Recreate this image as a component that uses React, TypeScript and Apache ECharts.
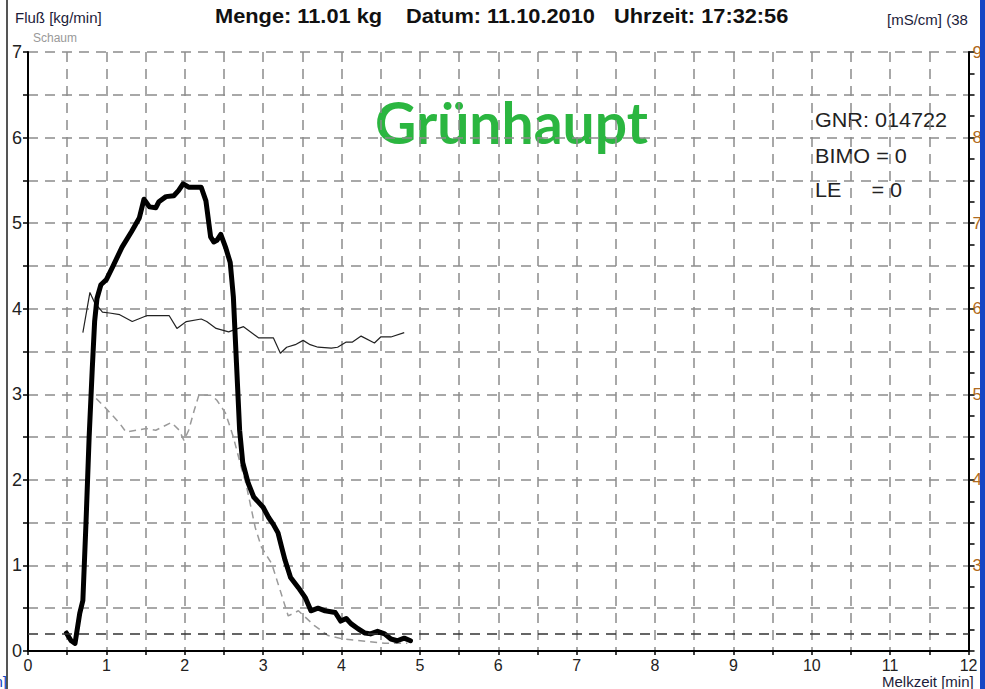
import React, { useEffect, useRef } from "react";
import * as echarts from "echarts";

// Fluß [kg/min] – thick black curve
const flowTime = [0.49, 0.55, 0.6, 0.66, 0.7, 0.74, 0.78, 0.82, 0.85, 0.88, 0.93, 1.0, 1.08, 1.2, 1.32, 1.42, 1.48, 1.55, 1.63, 1.67, 1.76, 1.86, 1.92, 1.98, 2.05, 2.21, 2.27, 2.33, 2.37, 2.41, 2.46, 2.52, 2.58, 2.62, 2.66, 2.7, 2.74, 2.81, 2.88, 2.94, 3.0, 3.07, 3.13, 3.19, 3.24, 3.28, 3.35, 3.45, 3.54, 3.61, 3.7, 3.79, 3.92, 3.99, 4.06, 4.12, 4.21, 4.3, 4.37, 4.46, 4.55, 4.63, 4.71, 4.8, 4.88];
const flowValue = [0.21, 0.12, 0.09, 0.44, 0.59, 1.5, 2.5, 3.3, 3.85, 4.12, 4.28, 4.34, 4.49, 4.72, 4.9, 5.06, 5.28, 5.19, 5.18, 5.25, 5.31, 5.32, 5.38, 5.46, 5.42, 5.42, 5.26, 4.84, 4.78, 4.8, 4.87, 4.72, 4.54, 4.14, 3.36, 2.58, 2.2, 1.96, 1.8, 1.74, 1.68, 1.56, 1.48, 1.38, 1.2, 1.06, 0.86, 0.74, 0.62, 0.47, 0.5, 0.47, 0.45, 0.35, 0.38, 0.32, 0.26, 0.21, 0.2, 0.23, 0.2, 0.14, 0.12, 0.15, 0.12];

// Leitfähigkeit [mS/cm] – thin curve (right axis)
const leitTime = [0.7, 0.79, 0.85, 0.95, 1.04, 1.17, 1.33, 1.52, 1.8, 1.9, 2.02, 2.21, 2.28, 2.4, 2.56, 2.62, 2.75, 2.94, 3.13, 3.22, 3.3, 3.41, 3.51, 3.6, 3.7, 3.87, 3.95, 4.06, 4.14, 4.25, 4.42, 4.5, 4.63, 4.8];
const leitValue = [5.72, 6.19, 6.07, 5.96, 5.95, 5.93, 5.85, 5.92, 5.92, 5.77, 5.85, 5.88, 5.85, 5.77, 5.73, 5.75, 5.79, 5.66, 5.66, 5.48, 5.55, 5.58, 5.63, 5.58, 5.55, 5.54, 5.55, 5.61, 5.61, 5.68, 5.6, 5.67, 5.67, 5.72];

// Schaum – grey dashed curve
const schaumTime = [0.87, 0.98, 1.17, 1.25, 1.51, 1.63, 1.83, 1.93, 1.99, 2.05, 2.12, 2.18, 2.34, 2.41, 2.52, 2.62, 2.72, 2.78, 2.9, 2.98, 3.11, 3.22, 3.32, 3.45, 3.65, 3.83, 4.02, 4.55, 4.84];
const schaumValue = [2.95, 2.85, 2.66, 2.56, 2.6, 2.58, 2.67, 2.58, 2.46, 2.58, 2.81, 2.99, 2.99, 2.93, 2.78, 2.5, 2.15, 1.96, 1.44, 1.21, 1.02, 0.7, 0.41, 0.47, 0.3, 0.18, 0.14, 0.09, 0.09];

const threshold = 0.2;

const titleParts = ["Menge: 11.01 kg", "Datum: 11.10.2010", "Uhrzeit: 17:32:56"];
const titleX = [215, 406, 614];
const infoLines = ["GNR: 014722", "BIMO = 0", "LE     = 0"];
const infoY = [120, 156, 190];

const FONT = "Liberation Sans, Arial, sans-serif";
const GRID_COLOR = "#8c8c8c";
const DASH = [10, 7];

const zip = (xs: number[], ys: number[]) => xs.map((x, i) => [x, ys[i]]);

export default function App() {
  const ref = useRef<HTMLDivElement>(null);
  useEffect(() => {
    const chart = echarts.init(ref.current!, null, { renderer: "svg" });
    const splitStyle = { color: GRID_COLOR, width: 1.5, type: DASH };
    const option: any = {
      animation: false,
      backgroundColor: "#fff",
      grid: { left: 28, right: 9, top: 52, bottom: 38, containLabel: false },
      xAxis: {
        type: "value",
        min: 0,
        max: 12,
        interval: 1,
        axisLine: { show: true, onZero: false, lineStyle: { color: "#000", width: 2 } },
        axisTick: { show: true, length: 4, lineStyle: { color: "#000", width: 1.5 } },
        minorTick: { show: true, splitNumber: 2, length: 4, lineStyle: { color: "#000", width: 1.5 } },
        splitLine: { show: true, lineStyle: splitStyle },
        minorSplitLine: { show: true, lineStyle: splitStyle },
        axisLabel: { fontSize: 16, fontFamily: FONT, color: "#222", margin: 6 },
      },
      yAxis: [
        {
          type: "value",
          min: 0,
          max: 7,
          interval: 1,
          position: "left",
          axisLine: { show: true, lineStyle: { color: "#000", width: 2 } },
          axisTick: { show: true, length: 5, lineStyle: { color: "#000", width: 1.5 } },
          minorTick: { show: true, splitNumber: 2, length: 5, lineStyle: { color: "#000", width: 1.5 } },
          splitLine: { show: true, lineStyle: splitStyle },
          minorSplitLine: { show: true, lineStyle: splitStyle },
          axisLabel: { fontSize: 18, fontFamily: FONT, color: "#222", margin: 6 },
        },
        {
          type: "value",
          min: 2,
          max: 9,
          interval: 1,
          position: "right",
          axisLine: { show: true, lineStyle: { color: "#000", width: 2 } },
          axisTick: { show: true, length: 6, lineStyle: { color: "#000", width: 1.5 } },
          minorTick: { show: true, splitNumber: 4, length: 6, lineStyle: { color: "#000", width: 1.5 } },
          splitLine: { show: false },
          axisLabel: { fontSize: 17, fontFamily: FONT, color: "#b06a20", margin: 4, showMinLabel: false },
        },
      ],
      series: [
        {
          name: "Schaum",
          type: "line",
          yAxisIndex: 0,
          data: zip(schaumTime, schaumValue),
          symbol: "none",
          lineStyle: { color: "#9a9a9a", width: 1.5, type: [7, 5] },
          silent: true,
        },
        {
          name: "Leitfähigkeit",
          type: "line",
          yAxisIndex: 1,
          data: zip(leitTime, leitValue),
          symbol: "none",
          lineStyle: { color: "#222", width: 1.2 },
          silent: true,
        },
        {
          name: "Fluß",
          type: "line",
          yAxisIndex: 0,
          data: zip(flowTime, flowValue),
          symbol: "none",
          lineStyle: { color: "#000", width: 5, join: "round", cap: "round" },
          silent: true,
          markLine: {
            silent: true,
            symbol: "none",
            label: { show: false },
            lineStyle: { color: "#333", width: 1.5, type: DASH },
            data: [{ yAxis: threshold }],
          },
        },
      ],
      graphic: [
        { type: "rect", shape: { x: 6, y: 0, width: 2, height: 689 }, style: { fill: "#555" }, silent: true },
        { type: "rect", shape: { x: 980, y: 0, width: 5, height: 689 }, style: { fill: "#1546c4" }, silent: true, z: 100 },
        { type: "text", x: 15, y: 17, style: { text: "Fluß [kg/min]", fontSize: 15, fontFamily: FONT, fill: "#1c1c3a", verticalAlign: "middle" } },
        { type: "text", x: 33, y: 38, style: { text: "Schaum", fontSize: 12, fontFamily: FONT, fill: "#999", verticalAlign: "middle" } },
        ...titleParts.map((t, i) => ({
          type: "text",
          x: titleX[i],
          y: 16,
          scaleX: 1.09,
          style: { text: t, fontSize: 20, fontWeight: "bold", fontFamily: FONT, fill: "#111", verticalAlign: "middle" },
        })),
        { type: "text", x: 887, y: 19, style: { text: "[mS/cm] (38", fontSize: 15, fontFamily: FONT, fill: "#1c1c3a", verticalAlign: "middle" } },
        { type: "text", x: 375, y: 122, style: { text: "Grünhaupt", fontSize: 57, fontWeight: "bold", fontFamily: "Lato, Open Sans, sans-serif", fill: "#2bb640", verticalAlign: "middle" } },
        ...infoLines.map((t, i) => ({
          type: "text",
          x: 815,
          y: infoY[i],
          scaleX: 1.08,
          style: { text: t, fontSize: 20, fontFamily: FONT, fill: "#222", verticalAlign: "middle" },
        })),
        { type: "text", x: 882, y: 681, style: { text: "Melkzeit [min]", fontSize: 15, fontFamily: FONT, fill: "#1c1c3a", verticalAlign: "middle" } },
        { type: "text", x: 7, y: 681, style: { text: "[min]", fontSize: 15, fontFamily: FONT, fill: "#1546c4", align: "right", verticalAlign: "middle" } },
      ],
    };
    chart.setOption(option);
    return () => chart.dispose();
  }, []);
  return (
    <div
      ref={ref}
      style={{ position: "fixed", left: 0, top: 0, width: 985, height: 689, background: "#fff" }}
    />
  );
}
